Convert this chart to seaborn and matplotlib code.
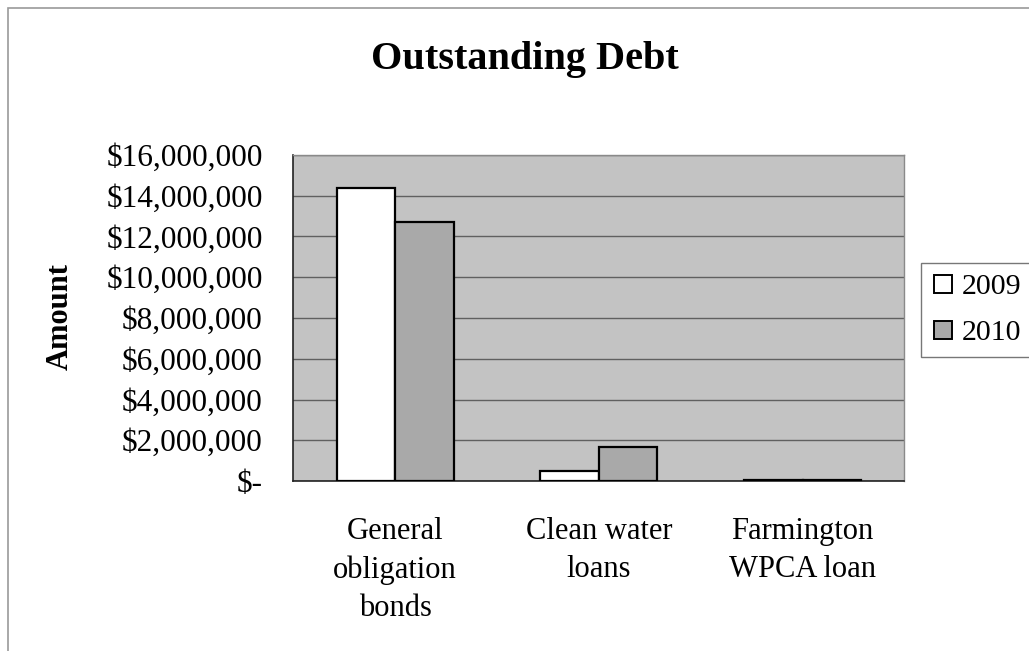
import matplotlib.pyplot as plt
import seaborn as sns
import pandas as pd
from matplotlib.ticker import FuncFormatter, FixedLocator
from matplotlib.lines import Line2D

# Data
categories = ['General\nobligation\nbonds', 'Clean water\nloans', 'Farmington\nWPCA loan']
years = ['2009', '2010']
debt_2009 = [14400000, 480000, 60000]
debt_2010 = [12700000, 1690000, 40000]
y_ticks = [0, 2000000, 4000000, 6000000, 8000000, 10000000, 12000000, 14000000, 16000000]

df = pd.DataFrame({
    'category': categories * 2,
    'year': [years[0]] * 3 + [years[1]] * 3,
    'amount': debt_2009 + debt_2010,
})

sns.set_style('white')
plt.rcParams['font.family'] = ['Liberation Serif', 'DejaVu Serif']
plt.rcParams['text.color'] = 'black'
plt.rcParams['xtick.color'] = 'black'
plt.rcParams['ytick.color'] = 'black'
plt.rcParams['axes.labelcolor'] = 'black'

fig = plt.figure(figsize=(10.29, 6.51), dpi=100)
ax = fig.add_axes([0.285, 0.261, 0.594, 0.501])
ax.set_facecolor('#c3c3c3')

sns.barplot(data=df, x='category', y='amount', hue='year', order=categories,
            hue_order=years, palette=['#ffffff', '#a9a9a9'], width=0.574, gap=0,
            edgecolor='black', linewidth=1.6, ax=ax, legend=False, zorder=3)

ax.set_ylim(0, 16000000)
ax.set_xlim(-0.5, 2.5)
ax.yaxis.set_major_locator(FixedLocator(y_ticks))


def money(v, pos):
    if v == 0:
        return '$-'
    return '${:,.0f}'.format(v)


ax.yaxis.set_major_formatter(FuncFormatter(money))
ax.grid(axis='y', color='#606060', linewidth=1.0, zorder=1)
ax.set_axisbelow(True)

# x ticks between categories, labels at centers
ax.set_xticks([-0.5, 0.5, 1.5, 2.5])
ax.set_xticklabels([])
ax.set_xticks([0, 1, 2], minor=True)
ax.set_xticklabels(categories, minor=True, fontsize=22, linespacing=1.42, va='top')
ax.tick_params(axis='x', which='major', direction='out', length=9, width=1, color='#222222')
ax.tick_params(axis='x', which='minor', length=0, pad=26)
ax.tick_params(axis='y', direction='out', length=7, width=1, color='#333333', labelsize=22.5, pad=15)

for s in ['left', 'bottom']:
    ax.spines[s].set_color('#222222')
    ax.spines[s].set_linewidth(1.2)
for s in ['top', 'right']:
    ax.spines[s].set_color('#8a8a8a')
    ax.spines[s].set_linewidth(1.0)

ax.set_xlabel('')
ax.set_ylabel('Amount', fontsize=22, fontweight='bold')
ax.yaxis.set_label_coords(-0.358, 0.506)

fig.text(0.51, 0.908, 'Outstanding Debt', ha='center', va='center', fontsize=29, fontweight='bold')

handles = [Line2D([], [], marker='s', linestyle='none', markersize=13,
                  markerfacecolor=c, markeredgecolor='black', markeredgewidth=1.4)
           for c in ['#ffffff', '#a9a9a9']]
leg = fig.legend(handles, years, loc='center left', bbox_to_anchor=(0.895, 0.524),
                 fontsize=21.5, frameon=True, fancybox=False, handlelength=0.8,
                 handletextpad=0.2, borderpad=0.35, labelspacing=0.65, borderaxespad=0)
leg.get_frame().set_edgecolor('#555555')
leg.get_frame().set_linewidth(1.0)

# outer chart border
fig.add_artist(plt.Rectangle((0.008, -0.01), 1.2, 0.998, transform=fig.transFigure,
                             fill=False, edgecolor='#9a9a9a', linewidth=1.2))

fig.savefig('out.png', dpi=100, facecolor='white')
